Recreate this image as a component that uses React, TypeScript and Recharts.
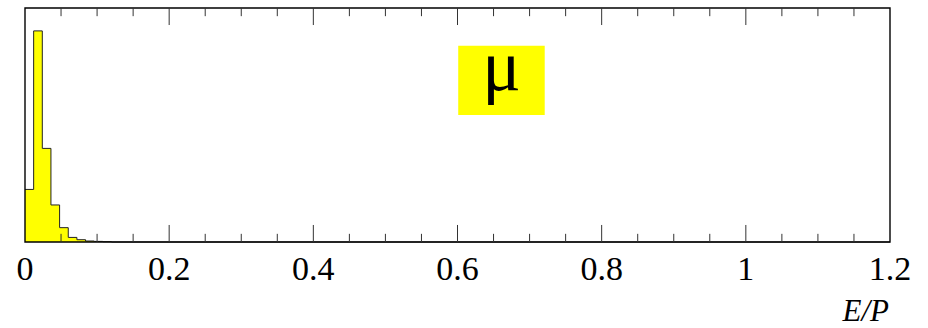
import { AreaChart, Area, XAxis, YAxis, ReferenceLine, ReferenceArea, Label } from "recharts";

// histogram bin left edges (width 0.012) and entries per bin
const binEdges = [0, 0.012, 0.024, 0.036, 0.048, 0.06, 0.072, 0.084, 0.096, 0.108, 0.12, 1.2];
const binCounts = [528, 2120, 940, 372, 144, 46, 23, 10, 6, 3, 0, 0];

const majorTicks = [0, 0.2, 0.4, 0.6, 0.8, 1, 1.2];
const minorTicks = [
  0.05, 0.1, 0.15, 0.25, 0.3, 0.35, 0.45, 0.5, 0.55, 0.65, 0.7, 0.75, 0.85, 0.9, 0.95, 1.05, 1.1, 1.15,
];
const innerMajor = [0.2, 0.4, 0.6, 0.8, 1];

const yMax = 2350;
const majorLen = 171;
const minorLen = 82;

const data = binEdges.map((x, i) => ({ x, n: binCounts[i] }));

const serif = "'Liberation Serif', 'Times New Roman', serif";

// particle tag drawn centred in its yellow box
const muLabel = (props: any) => {
  const vb = props.viewBox || {};
  return (
    <text
      x={vb.x + vb.width / 2}
      y={vb.y + vb.height / 2 + 10}
      textAnchor="middle"
      fontSize={72}
      fontFamily={serif}
      fill="#000"
    >
      μ
    </text>
  );
};

const axisTitle = (props: any) => {
  const vb = props.viewBox || {};
  return (
    <text
      x={vb.x + vb.width - 1}
      y={vb.y + vb.height - 7}
      textAnchor="end"
      fontSize={31}
      fontFamily={serif}
      fontStyle="italic"
      fill="#000"
    >
      E/P
    </text>
  );
};

export default function App() {
  const tickLines = [
    ...minorTicks.map((t) => ({ t, len: minorLen })),
    ...innerMajor.map((t) => ({ t, len: majorLen })),
  ];
  return (
    <div style={{ position: "absolute", left: 0, top: 0, background: "#fff" }}>
      <AreaChart width={928} height={328} data={data} margin={{ top: 8, right: 38, left: 25, bottom: 0 }}>
        <XAxis
          dataKey="x"
          type="number"
          domain={[0, 1.2]}
          ticks={majorTicks}
          interval={0}
          height={86}
          axisLine={false}
          tickLine={false}
          tickSize={0}
          tickMargin={14}
          tick={{ fill: "#000", fontSize: 34, fontFamily: serif }}
        >
          <Label content={axisTitle} />
        </XAxis>
        <YAxis hide width={0} domain={[0, yMax]} type="number" />
        <Area
          type="stepAfter"
          dataKey="n"
          stroke="#222"
          strokeWidth={1}
          fill="#ffff00"
          fillOpacity={1}
          baseValue={0}
          isAnimationActive={false}
        />
        <ReferenceArea x1={0.601} x2={0.721} y1={1275} y2={1970} fill="#ffff00" fillOpacity={1} stroke="none">
          <Label content={muLabel} />
        </ReferenceArea>
        {tickLines.map(({ t, len }) => (
          <ReferenceLine
            key={`b${t}`}
            segment={[{ x: t, y: 0 }, { x: t, y: len }]}
            stroke="#333"
            strokeWidth={1}
          />
        ))}
        {tickLines.map(({ t, len }) => (
          <ReferenceLine
            key={`t${t}`}
            segment={[{ x: t, y: yMax }, { x: t, y: yMax - len }]}
            stroke="#333"
            strokeWidth={1}
          />
        ))}
        <ReferenceArea
          x1={0}
          x2={1.2}
          y1={0}
          y2={yMax}
          fill="none"
          stroke="#000"
          strokeWidth={1.4}
          ifOverflow="visible"
        />
      </AreaChart>
    </div>
  );
}
